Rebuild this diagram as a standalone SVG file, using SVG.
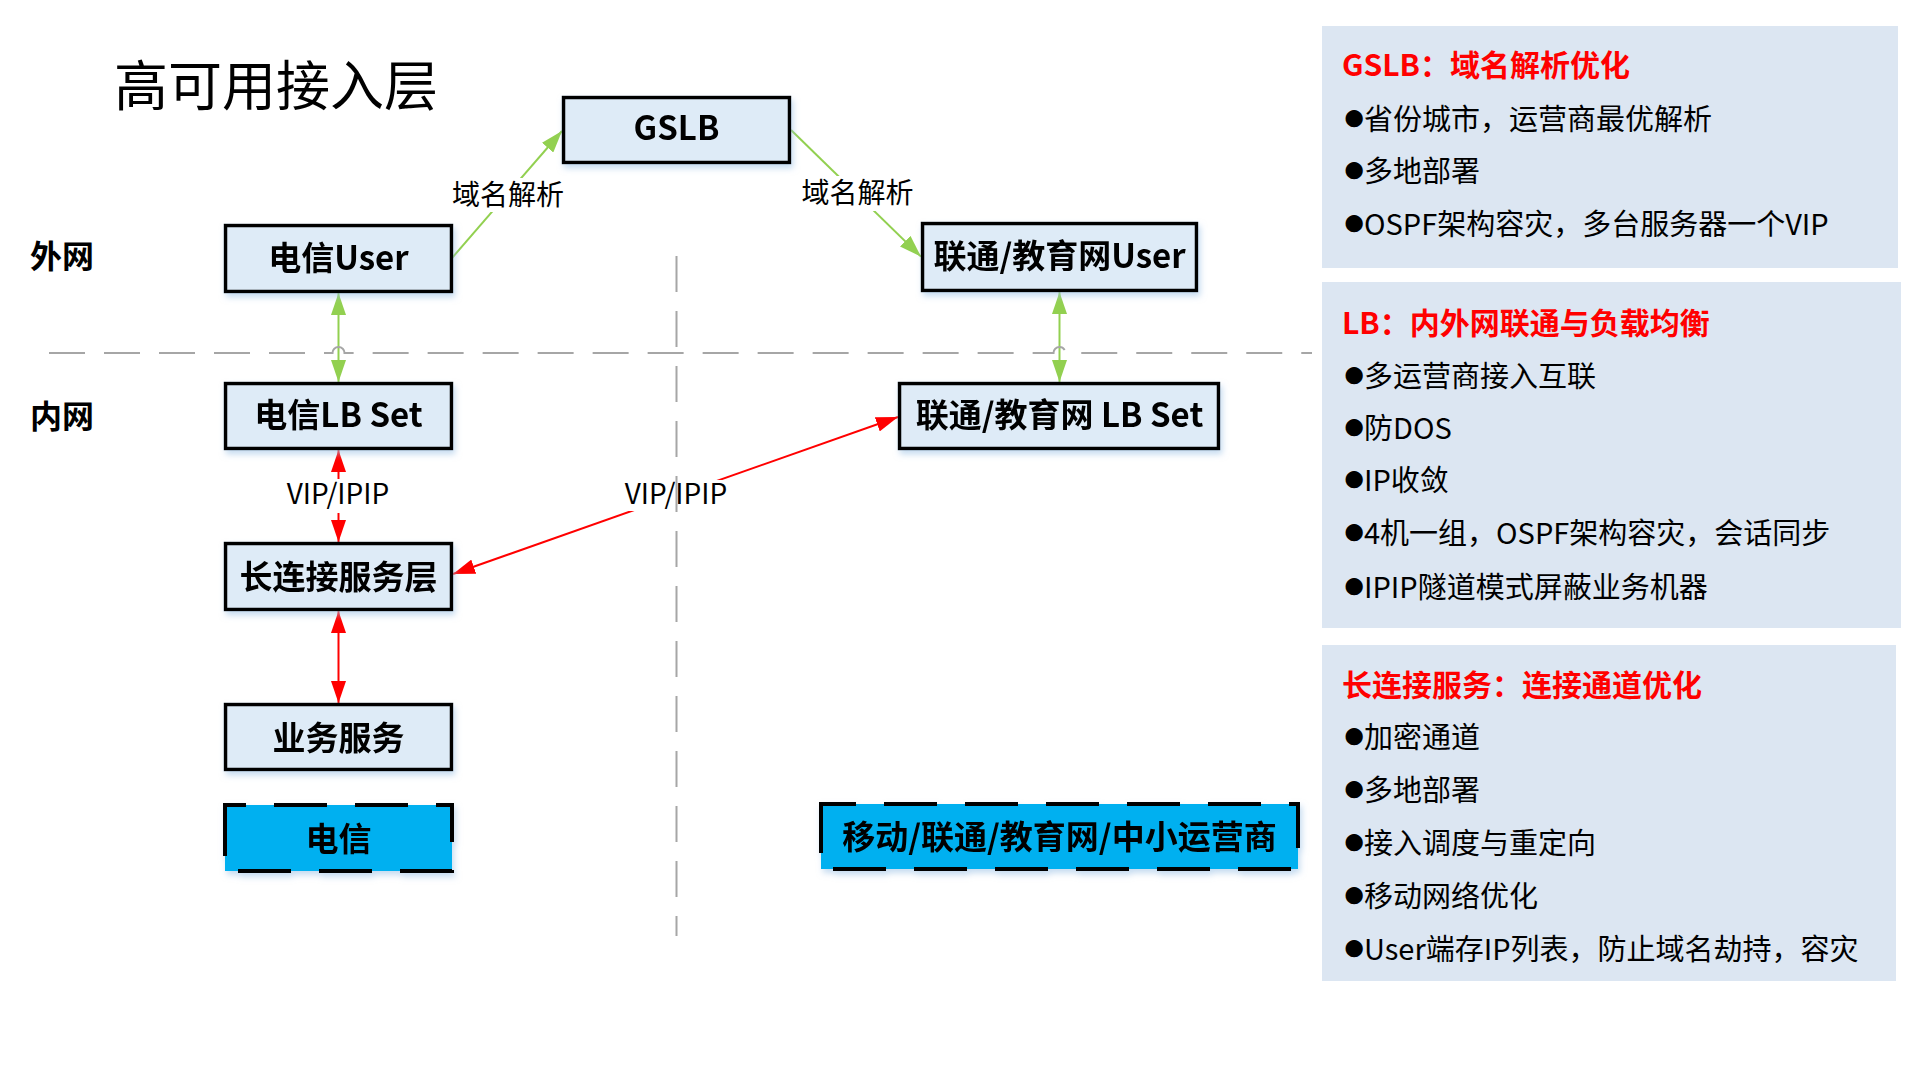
<svg xmlns="http://www.w3.org/2000/svg" width="1919" height="1079" viewBox="0 0 1919 1079">
<style>
text{font-family:"Noto Sans CJK SC","Noto Sans",sans-serif;}
.box{fill:#DEEBF7;stroke:#000;stroke-width:3.5;}
.cbox{fill:#00B0F0;stroke:#000;stroke-width:4;stroke-dasharray:53 28;}
.nt{font-size:33px;font-weight:bold;fill:#000;text-anchor:middle;}
.zone{font-size:32px;font-weight:bold;fill:#000;}
.lbl{font-size:28px;fill:#000;text-anchor:middle;}
.lbg{fill:#fff;}
.g{stroke:#92D050;stroke-width:2;fill:none;marker-start:url(#ag);marker-end:url(#ag);}
.g1{stroke:#92D050;stroke-width:2;fill:none;marker-end:url(#ag);}
.r{stroke:#FF0000;stroke-width:2;fill:none;marker-start:url(#ar);marker-end:url(#ar);}
.guide{stroke:#A6A6A6;stroke-width:2;fill:none;stroke-dasharray:36 19;}
.panel{fill:#DCE6F2;}
.ph{font-size:30px;font-weight:bold;fill:#FF0000;}
.pl{font-size:29px;fill:#000;}
.bu{font-family:"Liberation Sans",sans-serif;font-size:40px;}
</style>
<defs>
<marker id="ag" viewBox="0 0 22 15" refX="22" refY="7.5" markerWidth="22" markerHeight="15" markerUnits="userSpaceOnUse" orient="auto-start-reverse">
<path d="M0,0 L22,7.5 L0,15 z" fill="#92D050"/>
</marker>
<marker id="ar" viewBox="0 0 22 15" refX="22" refY="7.5" markerWidth="22" markerHeight="15" markerUnits="userSpaceOnUse" orient="auto-start-reverse">
<path d="M0,0 L22,7.5 L0,15 z" fill="#FF0000"/>
</marker>
<filter id="sh" x="-10%" y="-20%" width="130%" height="150%">
<feDropShadow dx="2" dy="4" stdDeviation="3" flood-color="#9DC3E6" flood-opacity="0.6"/>
</filter>
</defs>
<rect width="1919" height="1079" fill="#fff"/>

<text x="114" y="106" font-size="54" fill="#000">高可用接入层</text>
<text class="zone" x="30" y="268">外网</text>
<text class="zone" x="30" y="428">内网</text>

<g id="connectors">
<path class="g1" d="M452,258 L562,131"/>
<path class="g1" d="M791,130 L921,256.6"/>
<path class="g" d="M338.5,293 L338.5,382"/>
<path class="g" d="M1059.5,292 L1059.5,382"/>
<path class="r" d="M338.5,450 L338.5,542"/>
<path class="r" d="M338.5,611 L338.5,703"/>
<path class="r" d="M898,417 L453,574"/>
<rect class="lbg" x="452" y="178" width="112" height="34"/>
<text class="lbl" x="508" y="205">域名解析</text>
<rect class="lbg" x="802" y="176" width="112" height="35"/>
<text class="lbl" x="857.5" y="203">域名解析</text>
<rect class="lbg" x="284" y="479" width="108" height="34"/>
<text class="lbl" x="338" y="504">VIP/IPIP</text>
<rect class="lbg" x="622" y="480" width="108" height="31"/>
<text class="lbl" x="676" y="504">VIP/IPIP</text>
</g>

<g id="guides">
<path class="guide" d="M49,353 H332.5 A6,6 0 0 1 344.5,353 H1053.5 A6,6 0 0 1 1065.5,353 H1312"/>
<path class="guide" d="M676.5,256 V936"/>
</g>

<g id="node-gslb" filter="url(#sh)">
<rect class="box" x="563.5" y="97.5" width="226" height="65"/>
<text class="nt" x="676.5" y="140">GSLB</text>
</g>
<g id="node-dx-user" filter="url(#sh)">
<rect class="box" x="225.5" y="225.5" width="226" height="66"/>
<text class="nt" x="338.5" y="270">电信User</text>
</g>
<g id="node-lt-user" filter="url(#sh)">
<rect class="box" x="922.5" y="223.5" width="274" height="67"/>
<text class="nt" x="1059.5" y="268">联通/教育网User</text>
</g>
<g id="node-dx-lb" filter="url(#sh)">
<rect class="box" x="225.5" y="383.5" width="226" height="65"/>
<text class="nt" x="338.5" y="427">电信LB Set</text>
</g>
<g id="node-lt-lb" filter="url(#sh)">
<rect class="box" x="899.5" y="383.5" width="319" height="65"/>
<text class="nt" x="1059.5" y="427">联通/教育网 LB Set</text>
</g>
<g id="node-long" filter="url(#sh)">
<rect class="box" x="225.5" y="543.5" width="226" height="66"/>
<text class="nt" x="338.5" y="589">长连接服务层</text>
</g>
<g id="node-biz" filter="url(#sh)">
<rect class="box" x="225.5" y="704.5" width="226" height="65"/>
<text class="nt" x="338.5" y="750">业务服务</text>
</g>
<g id="node-dx" filter="url(#sh)">
<rect class="cbox" x="225" y="805" width="227" height="66" stroke-dashoffset="32"/>
<text class="nt" x="338.5" y="851">电信</text>
</g>
<g id="node-others" filter="url(#sh)">
<rect class="cbox" x="821" y="804" width="477" height="65" stroke-dashoffset="18"/>
<text class="nt" x="1059.5" y="849">移动/联通/教育网/中小运营商</text>
</g>

<g id="panel-gslb">
<rect class="panel" x="1322" y="26" width="576" height="242"/>
<text class="ph" x="1342" y="76">GSLB：域名解析优化</text>
<text class="pl" y="130"><tspan class="bu" x="1342">●</tspan><tspan x="1364">省份城市，运营商最优解析</tspan></text>
<text class="pl" y="182"><tspan class="bu" x="1342">●</tspan><tspan x="1364">多地部署</tspan></text>
<text class="pl" y="235"><tspan class="bu" x="1342">●</tspan><tspan x="1364">OSPF架构容灾，多台服务器一个VIP</tspan></text>
</g>
<g id="panel-lb">
<rect class="panel" x="1322" y="282" width="579" height="346"/>
<text class="ph" x="1342" y="334">LB：内外网联通与负载均衡</text>
<text class="pl" y="387"><tspan class="bu" x="1342">●</tspan><tspan x="1364">多运营商接入互联</tspan></text>
<text class="pl" y="439"><tspan class="bu" x="1342">●</tspan><tspan x="1364">防DOS</tspan></text>
<text class="pl" y="491"><tspan class="bu" x="1342">●</tspan><tspan x="1364">IP收敛</tspan></text>
<text class="pl" y="544"><tspan class="bu" x="1342">●</tspan><tspan x="1364">4机一组，OSPF架构容灾，会话同步</tspan></text>
<text class="pl" y="598"><tspan class="bu" x="1342">●</tspan><tspan x="1364">IPIP隧道模式屏蔽业务机器</tspan></text>
</g>
<g id="panel-long">
<rect class="panel" x="1322" y="645" width="574" height="336"/>
<text class="ph" x="1342" y="696">长连接服务：连接通道优化</text>
<text class="pl" y="748"><tspan class="bu" x="1342">●</tspan><tspan x="1364">加密通道</tspan></text>
<text class="pl" y="801"><tspan class="bu" x="1342">●</tspan><tspan x="1364">多地部署</tspan></text>
<text class="pl" y="854"><tspan class="bu" x="1342">●</tspan><tspan x="1364">接入调度与重定向</tspan></text>
<text class="pl" y="907"><tspan class="bu" x="1342">●</tspan><tspan x="1364">移动网络优化</tspan></text>
<text class="pl" y="960"><tspan class="bu" x="1342">●</tspan><tspan x="1364">User端存IP列表，防止域名劫持，容灾</tspan></text>
</g>
</svg>
